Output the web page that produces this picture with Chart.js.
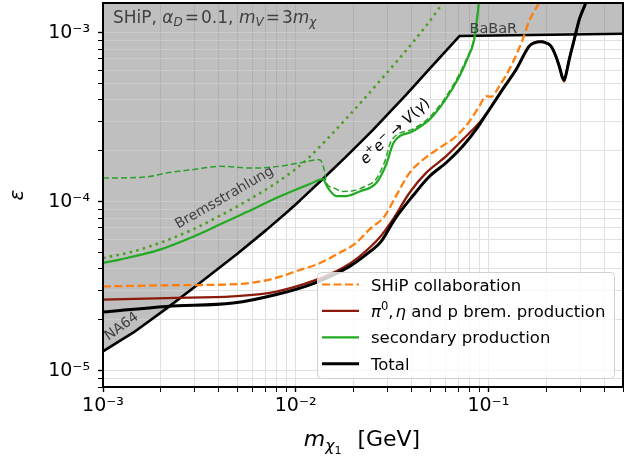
<!DOCTYPE html>
<html><head><meta charset="utf-8">
<script src="https://cdn.jsdelivr.net/npm/chart.js@4/dist/chart.umd.min.js"></script>
<style>html,body{margin:0;padding:0;background:#fff;overflow:hidden}canvas{display:block}</style>
</head><body><canvas id="c" width="641" height="459"></canvas>
<script>
// ---------------- data ----------------
const xTicks = [0.001,0.002,0.003,0.004,0.005,0.006,0.007,0.008,0.009,0.01,0.02,0.03,0.04,0.05,0.06,0.07,0.08,0.09,0.1,0.2,0.3,0.4,0.5];
const yTicks = [8e-6,9e-6,1e-5,2e-5,3e-5,4e-5,5e-5,6e-5,7e-5,8e-5,9e-5,1e-4,2e-4,3e-4,4e-4,5e-4,6e-4,7e-4,8e-4,9e-4,1e-3];
const xRange = [1e-3, 0.5];
const yRange = [8e-6, 1.5e-3];

// excluded region (NA64 / e+e- -> V(gamma) / BaBaR)
const boundaryMass = [0.001,0.00144,0.00214,0.00318,0.005,0.00705,0.00895,0.0105,0.01383,0.01833,0.0252,0.0375,0.0494,0.0708,0.5];
const boundaryEps  = [1.30e-5,1.683e-5,2.336e-5,3.30e-5,4.94e-5,6.81e-5,8.61e-5,1.014e-4,1.363e-4,1.853e-4,2.663e-4,4.30e-4,6.10e-4,9.56e-4,9.86e-4];

// SHiP collaboration
const shipMass = [0.001,0.00214,0.00513,0.00762,0.0105,0.0133,0.0169,0.0206,0.0241,0.0289,0.0333,0.039,0.0457,0.0557,0.0681,0.0798,0.0897,0.0973,0.1033,0.114,0.1337,0.1507,0.163,0.1875];
const shipEps  = [3.15e-5,3.20e-5,3.26e-5,3.50e-5,3.94e-5,4.32e-5,4.98e-5,5.70e-5,6.84e-5,8.19e-5,1.09e-4,1.48e-4,1.77e-4,2.08e-4,2.44e-4,2.99e-4,3.67e-4,4.21e-4,4.18e-4,4.83e-4,6.64e-4,9.13e-4,1.17e-3,1.57e-3];

// pi0, eta and p brem. production
const mesonMass = [0.001,0.00214,0.00473,0.00794,0.01253,0.01758,0.0215,0.0272,0.0319,0.039,0.0475,0.0604,0.0736,0.0881,0.0973,0.1186,0.1394,0.163,0.173,0.1875,0.199,0.2114,0.2223,0.2334,0.2427,0.2478,0.253,0.263,0.2793,0.2966,0.3206,0.333];
const mesonEps  = [2.63e-5,2.69e-5,2.75e-5,2.94e-5,3.42e-5,4.06e-5,4.75e-5,6.11e-5,7.83e-5,1.13e-4,1.48e-4,1.86e-4,2.33e-4,2.86e-4,3.28e-4,4.62e-4,6.06e-4,8.33e-4,8.72e-4,8.85e-4,8.72e-4,8.33e-4,7.43e-4,6.34e-4,5.41e-4,5.15e-4,5.66e-4,6.95e-4,9.13e-4,1.20e-3,1.51e-3,1.76e-3];

// secondary production (solid) and its dashed variant
const secMass = [0.001,0.00122,0.00197,0.00294,0.00388,0.00556,0.00826,0.01184,0.01383,0.01469,0.01626,0.01833,0.0215,0.0262,0.0295,0.0322,0.0405,0.0494,0.0592,0.0708,0.0782,0.0845,0.0881,0.0897];
const secEps  = [4.34e-5,4.54e-5,5.20e-5,6.21e-5,7.17e-5,8.68e-5,1.072e-4,1.272e-4,1.36e-4,1.21e-4,1.08e-4,1.08e-4,1.15e-4,1.29e-4,1.66e-4,2.23e-4,2.61e-4,3.06e-4,3.94e-4,5.53e-4,7.11e-4,9.13e-4,1.31e-3,1.57e-3];
const secDashMass = [0.001,0.00168,0.00214,0.00294,0.00404,0.00601,0.00826,0.0105,0.0133,0.01413,0.01442,0.0156,0.01758,0.0198,0.0232,0.026,0.0289,0.0314,0.0405,0.0494,0.0592,0.0708,0.0782,0.0845,0.0881,0.0897];
const secDashEps  = [1.38e-4,1.40e-4,1.48e-4,1.55e-4,1.62e-4,1.58e-4,1.62e-4,1.70e-4,1.77e-4,1.51e-4,1.29e-4,1.21e-4,1.15e-4,1.16e-4,1.24e-4,1.35e-4,1.71e-4,2.30e-4,2.69e-4,3.15e-4,4.06e-4,5.70e-4,7.29e-4,9.38e-4,1.34e-3,1.57e-3];

// Bremsstrahlung (dotted)
const bremMass = [0.001,0.00144,0.00214,0.00294,0.00404,0.00556,0.00762,0.00968,0.01182,0.0133,0.0156,0.01833,0.02235,0.0272,0.0337,0.0404,0.0557,0.0628];
const bremEps  = [4.64e-5,5.08e-5,5.90e-5,6.87e-5,8.25e-5,1.008e-4,1.254e-4,1.518e-4,1.842e-4,2.107e-4,2.55e-4,3.11e-4,3.99e-4,5.15e-4,6.83e-4,8.72e-4,1.408e-3,1.76e-3];

// Total
const totalMass = [0.001,0.00214,0.00473,0.00794,0.01253,0.01905,0.0232,0.0278,0.0326,0.0405,0.0494,0.0604,0.0736,0.0863,0.0973,0.1186,0.1394,0.163,0.173,0.1875,0.199,0.2114,0.2223,0.2334,0.2427,0.2478,0.253,0.263,0.2793,0.2966,0.3206,0.333];
const totalEps  = [2.22e-5,2.40e-5,2.51e-5,2.82e-5,3.30e-5,4.14e-5,4.86e-5,5.82e-5,7.83e-5,1.08e-4,1.41e-4,1.70e-4,2.13e-4,2.67e-4,3.28e-4,4.62e-4,6.06e-4,8.33e-4,8.72e-4,8.85e-4,8.72e-4,8.33e-4,7.43e-4,6.34e-4,5.41e-4,5.28e-4,5.66e-4,6.95e-4,9.13e-4,1.20e-3,1.51e-3,1.76e-3];

// ---------------- helpers ----------------
const FAM = '"DejaVu Sans"';
const N = s => `${s}px ${FAM}`;
const I = s => `italic ${s}px ${FAM}`;
const pts = (xs, ys) => xs.map((x, i) => ({x, y: ys[i]}));
const isPow10 = v => Math.abs(Math.log10(v) - Math.round(Math.log10(v))) < 1e-9;
const SUP = {'-':'⁻','0':'⁰','1':'¹','2':'²','3':'³','4':'⁴','5':'⁵','6':'⁶','7':'⁷','8':'⁸','9':'⁹'};
const powLabel = v => '10' + String(Math.round(Math.log10(v))).split('').map(c => SUP[c]).join('');

function runsWidth(ctx, runs) { let w = 0; for (const r of runs) { ctx.font = r.f; w += (r.g || 0) + ctx.measureText(r.t).width; } return w; }
function drawRuns(ctx, runs, x, y, o) {
  ctx.save();
  ctx.translate(x, y);
  if (o.rot) ctx.rotate(o.rot * Math.PI / 180);
  ctx.fillStyle = o.color || '#000';
  ctx.textBaseline = 'alphabetic';
  ctx.textAlign = 'left';
  let cx = o.align === 'center' ? -runsWidth(ctx, runs) / 2 : 0;
  const by = o.dy || 0;
  for (const r of runs) { ctx.font = r.f; cx += (r.g || 0); ctx.fillText(r.t, cx, by + (r.dy || 0)); cx += ctx.measureText(r.t).width; }
  ctx.restore();
}

const LEGEND = [
  {runs: [{t:'SHiP collaboration', f:N(16.5)}], color:'#ff7f0e', width:2.2, dash:[8,3.5]},
  {runs: [{t:'π', f:I(16.5)}, {t:'0', f:N(11.5), dy:-7}, {t:',', f:N(16.5)}, {t:'η', f:I(16.5), g:2}, {t:' and p brem. production', f:N(16.5)}], color:'#8b1a0a', width:2.2, dash:[]},
  {runs: [{t:'secondary production', f:N(16.5)}], color:'#22aa22', width:2.2, dash:[]},
  {runs: [{t:'Total', f:N(16.5)}], color:'#000000', width:3, dash:[]}
];

const FILL_INDEX = 0;

const decorPlugin = {
  id: 'decor',
  afterDatasetDraw(chart, args) {
    if (args.index !== FILL_INDEX) return;
    // horizontal grid lines drawn over the shaded region (lighter in grey)
    const {ctx, chartArea: a, scales: {y}} = chart;
    ctx.save();
    ctx.beginPath(); ctx.rect(a.left, a.top, a.right - a.left, a.bottom - a.top); ctx.clip();
    ctx.strokeStyle = 'rgba(226,226,226,0.55)';
    ctx.lineWidth = 1;
    for (const v of yTicks) {
      const py = Math.round(y.getPixelForValue(v) - 0.5) + 0.5;
      ctx.beginPath(); ctx.moveTo(a.left, py); ctx.lineTo(a.right, py); ctx.stroke();
    }
    ctx.restore();
  },
  afterDatasetsDraw(chart) {
    const {ctx, chartArea: a, scales: {x, y}} = chart;
    const P = (m, e) => [x.getPixelForValue(m), y.getPixelForValue(e)];
    // annotations
    let p = P(1.127e-3, 1.146e-3);
    drawRuns(ctx, [{t:'SHiP, ', f:N(17)}, {t:'α', f:I(17)}, {t:'D', f:I(12), dy:3.5}, {t:'=', f:N(17), g:2}, {t:'0.1, ', f:N(17), g:2},
      {t:'m', f:I(17)}, {t:'V', f:I(12), dy:3.5}, {t:'=', f:N(17), g:2}, {t:'3', f:N(17), g:2}, {t:'m', f:I(17)}, {t:'χ', f:I(12), dy:3.5}],
      p[0], p[1], {color:'#404040'});
    p = P(0.0798, 1.0e-3);
    drawRuns(ctx, [{t:'BaBaR', f:N(14.5)}], p[0], p[1], {color:'#404040'});
    p = P(1.24e-3, 1.85e-5);
    drawRuns(ctx, [{t:'NA64', f:N(14)}], p[0], p[1], {color:'#404040', align:'center', rot:-36, dy:5});
    p = P(4.24e-3, 1.07e-4);
    drawRuns(ctx, [{t:'Bremsstrahlung', f:N(14)}], p[0], p[1], {color:'#404040', align:'center', rot:-30, dy:5});
    p = P(0.0326, 2.63e-4);
    drawRuns(ctx, [{t:'e', f:I(15)}, {t:'+', f:N(10.5), dy:-6}, {t:'e', f:I(15)}, {t:'−', f:N(10.5), dy:-6}, {t:' → ', f:N(15)},
      {t:'V', f:I(15)}, {t:'(', f:N(15)}, {t:'γ', f:I(15)}, {t:')', f:N(15)}], p[0], p[1], {color:'#000', align:'center', rot:-43, dy:5});

    // axes frame
    ctx.save();
    ctx.strokeStyle = '#000'; ctx.lineWidth = 2;
    ctx.strokeRect(a.left, a.top, a.right - a.left, a.bottom - a.top);
    ctx.restore();

    // legend
    const bx = a.right - 306, by = a.bottom - 115, bw = 297, bh = 106;
    ctx.save();
    ctx.beginPath();
    ctx.roundRect(bx + 0.5, by + 0.5, bw, bh, 4);
    ctx.fillStyle = 'rgba(255,255,255,0.8)'; ctx.fill();
    ctx.strokeStyle = '#d0d0d0'; ctx.lineWidth = 1; ctx.stroke();
    LEGEND.forEach((L, i) => {
      const ry = by + 12.5 + i * 26.4;
      ctx.beginPath();
      ctx.setLineDash(L.dash); ctx.strokeStyle = L.color; ctx.lineWidth = L.width;
      ctx.moveTo(bx + 5, ry); ctx.lineTo(bx + 42, ry); ctx.stroke();
      ctx.setLineDash([]);
      drawRuns(ctx, L.runs, bx + 54, ry + 6, {color:'#000'});
    });
    ctx.restore();

    // x axis title
    drawRuns(ctx, [{t:'m', f:I(22)}, {t:'χ', f:I(15.5), dy:4.5}, {t:'1', f:N(11), dy:7.5}, {t:'[GeV]', f:N(22), g:16}],
      (a.left + a.right) / 2 - 1, 446, {color:'#000', align:'center'});
  }
};

const lineDs = (label, xs, ys, color, width, dash, order, smooth = true) => ({
  label, data: pts(xs, ys), borderColor: color, borderWidth: width, borderDash: dash,
  pointRadius: 0, fill: false, order, borderJoinStyle: 'round', borderCapStyle: 'butt',
  cubicInterpolationMode: smooth ? 'monotone' : 'default', tension: smooth ? 0.4 : 0
});

const datasets = [
  {label: 'excluded', data: pts(boundaryMass, boundaryEps), borderWidth: 0, borderColor: 'rgba(0,0,0,0)',
   backgroundColor: 'rgba(128,128,128,0.5)', fill: 'end', pointRadius: 0, tension: 0, order: 20},
  lineDs('bounds', boundaryMass, boundaryEps, '#000000', 2.6, [], 19, false),
  lineDs('Bremsstrahlung', bremMass, bremEps, '#50a028', 2.6, [2.6, 4.2], 18),
  lineDs('secondary dashed', secDashMass, secDashEps, '#2ca02c', 1.5, [6, 3], 17),
  lineDs('secondary production', secMass, secEps, '#22aa22', 2.2, [], 16),
  lineDs('SHiP collaboration', shipMass, shipEps, '#ff7f0e', 2.3, [8, 3.5], 15),
  lineDs('pi0, eta and p brem. production', mesonMass, mesonEps, '#8b1a0a', 2.3, [], 14),
  lineDs('Total', totalMass, totalEps, '#000000', 3, [], 13)
];

const tickW = c => (c.tick && isPow10(c.tick.value)) ? 1.4 : 1;
const noPad = s => { s.paddingTop = 0; s.paddingBottom = 0; s.paddingLeft = 0; s.paddingRight = 0; };

new Chart(document.getElementById('c'), {
  type: 'line',
  data: {datasets},
  options: {
    responsive: false, animation: false, devicePixelRatio: 1,
    layout: {padding: {left: 0, right: 18, top: 3, bottom: 0}},
    plugins: {legend: {display: false}, tooltip: {enabled: false}},
    scales: {
      x: {
        type: 'logarithmic', min: xRange[0], max: xRange[1],
        afterBuildTicks: s => { s.ticks = xTicks.map(v => ({value: v})); },
        afterFit: s => { s.height = 72; noPad(s); },
        ticks: {autoSkip: false, maxRotation: 0, padding: 3, color: '#000', font: {family: 'DejaVu Sans', size: 19},
                callback: v => isPow10(v) ? powLabel(v) : ''},
        grid: {color: '#e0e0e0', lineWidth: 1, tickColor: '#000', tickLength: 5, tickWidth: tickW},
        border: {display: false}
      },
      y: {
        type: 'logarithmic', min: yRange[0], max: yRange[1],
        afterBuildTicks: s => { s.ticks = yTicks.map(v => ({value: v})); },
        afterFit: s => { s.width = 103; noPad(s); },
        ticks: {autoSkip: false, padding: 8, color: '#000', font: {family: 'DejaVu Sans', size: 19},
                callback: v => isPow10(v) ? powLabel(v) : ''},
        grid: {color: '#e0e0e0', lineWidth: 1, tickColor: '#000', tickLength: 5, tickWidth: tickW},
        border: {display: false},
        title: {display: true, text: 'ε', color: '#000', font: {family: 'DejaVu Sans', size: 20, style: 'italic'}, padding: {top: 6, bottom: 0}}
      }
    }
  },
  plugins: [decorPlugin]
});
</script>
</body></html>
